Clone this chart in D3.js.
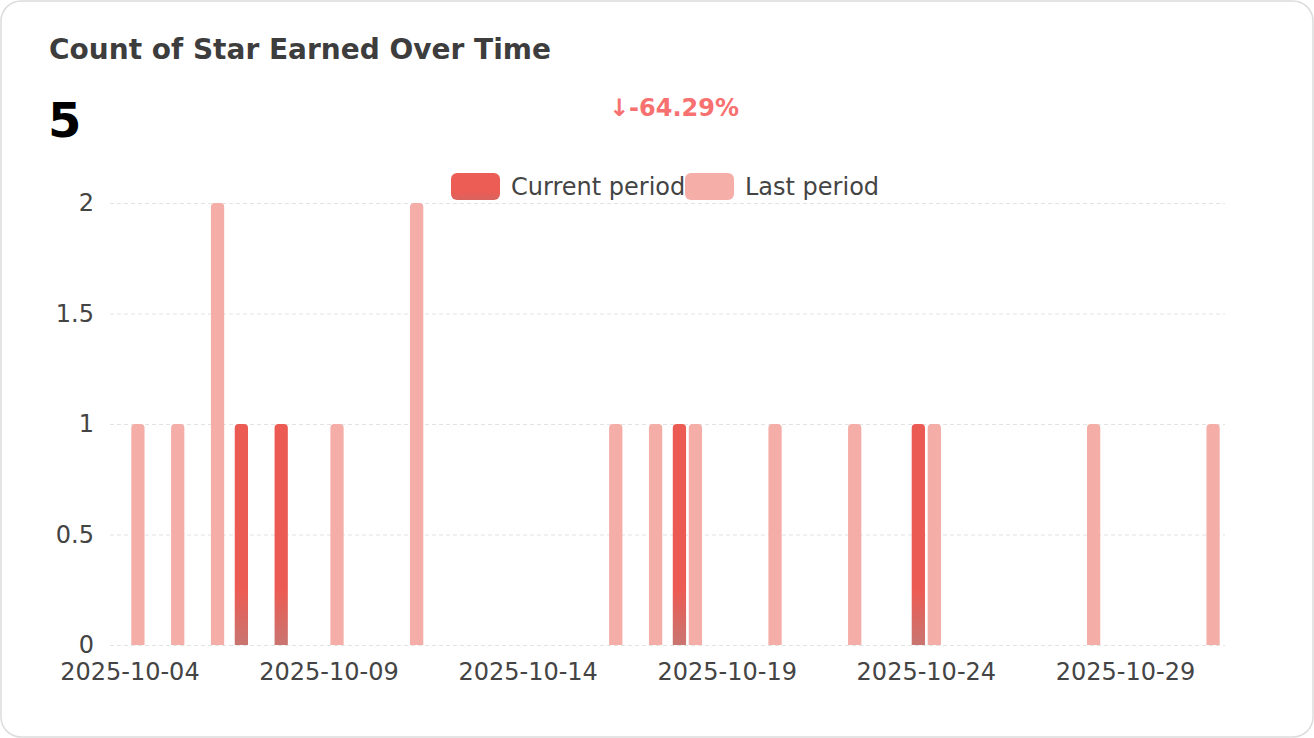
<!DOCTYPE html>
<html><head><meta charset="utf-8">
<script src="https://cdn.jsdelivr.net/npm/d3@7"></script>
<style>
html,body{margin:0;padding:0;background:#fff;}
svg{display:block;font-family:"DejaVu Sans",sans-serif;}
</style></head>
<body><svg id="c" width="1314" height="738"></svg>
<script>
const dates = ["2025-10-04","2025-10-05","2025-10-06","2025-10-07","2025-10-08","2025-10-09","2025-10-10","2025-10-11","2025-10-12","2025-10-13","2025-10-14","2025-10-15","2025-10-16","2025-10-17","2025-10-18","2025-10-19","2025-10-20","2025-10-21","2025-10-22","2025-10-23","2025-10-24","2025-10-25","2025-10-26","2025-10-27","2025-10-28","2025-10-29","2025-10-30","2025-10-31"];
const currentPeriod = [0,0,0,1,1,0,0,0,0,0,0,0,0,0,1,0,0,0,0,0,1,0,0,0,0,0,0,0];
const lastPeriod    = [1,1,2,0,0,1,0,2,0,0,0,0,1,1,1,0,1,0,1,0,1,0,0,0,1,0,0,1];
const yTicks = [0,0.5,1,1.5,2];
const xTickLabels = ["2025-10-04","2025-10-09","2025-10-14","2025-10-19","2025-10-24","2025-10-29"];
const seriesNames = ["Current period","Last period"];
const titleText = "Count of Star Earned Over Time";
const totalText = "5";
const changeText = "↓-64.29%";

(function(){
const svg = d3.select("#c");
const W = 1314, H = 738;
const pL = 110, pR = 1225, pT = 203, pB = 645;

const defs = svg.append("defs");
const grad = defs.append("linearGradient").attr("id","curGrad")
  .attr("gradientUnits","userSpaceOnUse").attr("x1",0).attr("x2",0);
const lgGrad = defs.append("linearGradient").attr("id","legGrad")
  .attr("x1",0).attr("x2",0).attr("y1",0).attr("y2",1);
lgGrad.append("stop").attr("offset","0.7").attr("stop-color","#ec5d55");
lgGrad.append("stop").attr("offset","1").attr("stop-color","#d8645f");

svg.append("rect").attr("x",1).attr("y",1).attr("width",W-2).attr("height",H-2)
  .attr("rx",20).attr("fill","#fff").attr("stroke","#dcdcdc").attr("stroke-width",1.5);

svg.append("text").attr("x",49).attr("y",59).attr("font-size",28).attr("font-weight","bold")
  .attr("fill","#3d3d3d").text(titleText);
svg.append("text").attr("x",48).attr("y",137).attr("font-size",48).attr("font-weight","bold")
  .attr("fill","#000").text(totalText);
svg.append("text").attr("x",674).attr("y",116).attr("font-size",24).attr("font-weight","bold")
  .attr("text-anchor","middle").attr("fill","#f87171").text(changeText);

const x = d3.scaleBand().domain(dates).range([pL,pR]).paddingInner(0).paddingOuter(0);
const y = d3.scaleLinear().domain([0,2]).range([pB,pT]);
const xs = d3.scaleBand().domain(seriesNames).range([0,x.bandwidth()]).paddingInner(0.17).paddingOuter(0.33);

grad.attr("y1",y(0.25)).attr("y2",y(0));
grad.append("stop").attr("offset","0").attr("stop-color","#ec5b53");
grad.append("stop").attr("offset","1").attr("stop-color","#c97571");

const gy = svg.append("g").attr("transform",`translate(${pL},0)`)
  .call(d3.axisLeft(y).tickValues(yTicks).tickSize(-(pR-pL)).tickPadding(16).tickFormat(d3.format("")));
gy.select(".domain").remove();
gy.selectAll(".tick line").attr("stroke","#e3e3e3").attr("stroke-dasharray","4,3").attr("stroke-width",1.2);
gy.selectAll(".tick text").attr("font-size",24).attr("fill","#444").attr("font-family","DejaVu Sans");

const gx = svg.append("g").attr("transform",`translate(0,${pB})`)
  .call(d3.axisBottom(x).tickValues(xTickLabels).tickSize(0).tickPadding(18));
gx.select(".domain").remove();
gx.selectAll(".tick text").attr("font-size",24).attr("fill","#444").attr("font-family","DejaVu Sans");

function barPath(x0, w, y0, y1, r){
  r = Math.min(r, w/2, (y0-y1));
  return `M${x0},${y0}V${y1+r}Q${x0},${y1} ${x0+r},${y1}H${x0+w-r}Q${x0+w},${y1} ${x0+w},${y1+r}V${y0}Z`;
}

const rows = dates.map((d,i)=>({d, c:currentPeriod[i], l:lastPeriod[i]}));
const bars = svg.append("g");
bars.selectAll("path.last").data(rows.filter(r=>r.l>0)).join("path").attr("class","last")
  .attr("d",r=>barPath(x(r.d)+xs("Last period"), xs.bandwidth(), y(0), y(r.l), 4))
  .attr("fill","#f5ada7");
bars.selectAll("path.cur").data(rows.filter(r=>r.c>0)).join("path").attr("class","cur")
  .attr("d",r=>barPath(x(r.d)+xs("Current period"), xs.bandwidth(), y(0), y(r.c), 4))
  .attr("fill","url(#curGrad)");

const leg = svg.append("g");
const legItems = [{n:seriesNames[0],x:451,fill:"url(#legGrad)"},{n:seriesNames[1],x:685,fill:"#f6aea9"}];
legItems.forEach(it=>{
  leg.append("rect").attr("x",it.x).attr("y",173).attr("width",49).attr("height",27).attr("rx",6).attr("fill",it.fill);
  leg.append("text").attr("x",it.x+60).attr("y",195).attr("font-size",24).attr("fill","#444").text(it.n);
});
})();
</script></body></html>
